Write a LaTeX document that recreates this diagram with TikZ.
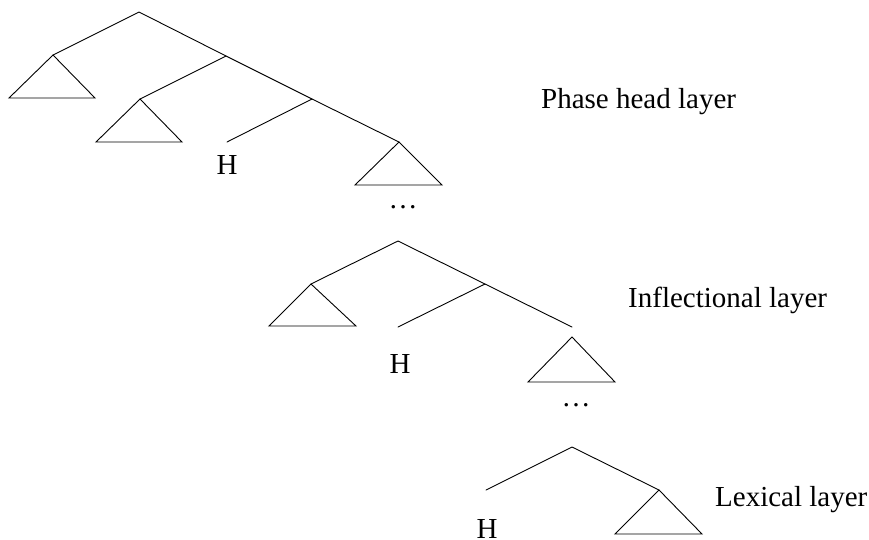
\documentclass[tikz,border=0pt]{standalone}
\usepackage{fontspec}
\setmainfont{Liberation Serif}
\begin{document}
\begin{tikzpicture}[x=1pt,y=-1pt,
  branch/.style={line width=0.9pt,line cap=round},
  lbl/.style={inner sep=0pt,anchor=base,font=\fontsize{29}{34}\selectfont},
  layerlbl/.style={inner sep=0pt,anchor=base west,font=\fontsize{29}{34}\selectfont}]
\useasboundingbox (0,0) rectangle (869,539);
% top tree
\coordinate (A) at (139,12);
\coordinate (B) at (53,55);
\coordinate (C) at (226,56);
\coordinate (D) at (140,99);
\coordinate (E) at (312,99);
\coordinate (h1) at (227,142);
\coordinate (F) at (399,142);
\draw[branch] (B) -- (A) -- (C) -- (E) -- (F);
\draw[branch] (C) -- (D);
\draw[branch] (E) -- (h1);
\draw[branch] (B) -- (9,98) -- (95,98) -- cycle;
\draw[branch] (D) -- (96,142) -- (182,142) -- cycle;
\draw[branch] (F) -- (355,185) -- (442,185) -- cycle;
\node[lbl] (H1) at (227,174) {H};
\node[lbl] (dots1) at (403,208) {…};
% middle tree
\coordinate (G) at (398,241);
\coordinate (J) at (311,284);
\coordinate (K) at (485,284);
\coordinate (h2) at (398,327);
\coordinate (L) at (572,327);
\coordinate (M) at (572,337);
\draw[branch] (J) -- (G) -- (K) -- (L);
\draw[branch] (K) -- (h2);
\draw[branch] (J) -- (269,326) -- (356,326) -- cycle;
\draw[branch] (M) -- (528,382) -- (615,382) -- cycle;
\node[lbl] (H2) at (400,373) {H};
\node[lbl] (dots2) at (576,406) {…};
% bottom tree
\coordinate (N) at (572,447);
\coordinate (h3) at (486,490);
\coordinate (O) at (659,490);
\draw[branch] (h3) -- (N) -- (O);
\draw[branch] (O) -- (615,534) -- (702,534) -- cycle;
\node[lbl] (H3) at (487,538) {H};
% layer labels
\node[layerlbl] (phase) at (541,108) {Phase head layer};
\node[layerlbl] (infl) at (628,307) {Inflectional layer};
\node[layerlbl] (lex) at (715,506) {Lexical layer};
\end{tikzpicture}
\end{document}
